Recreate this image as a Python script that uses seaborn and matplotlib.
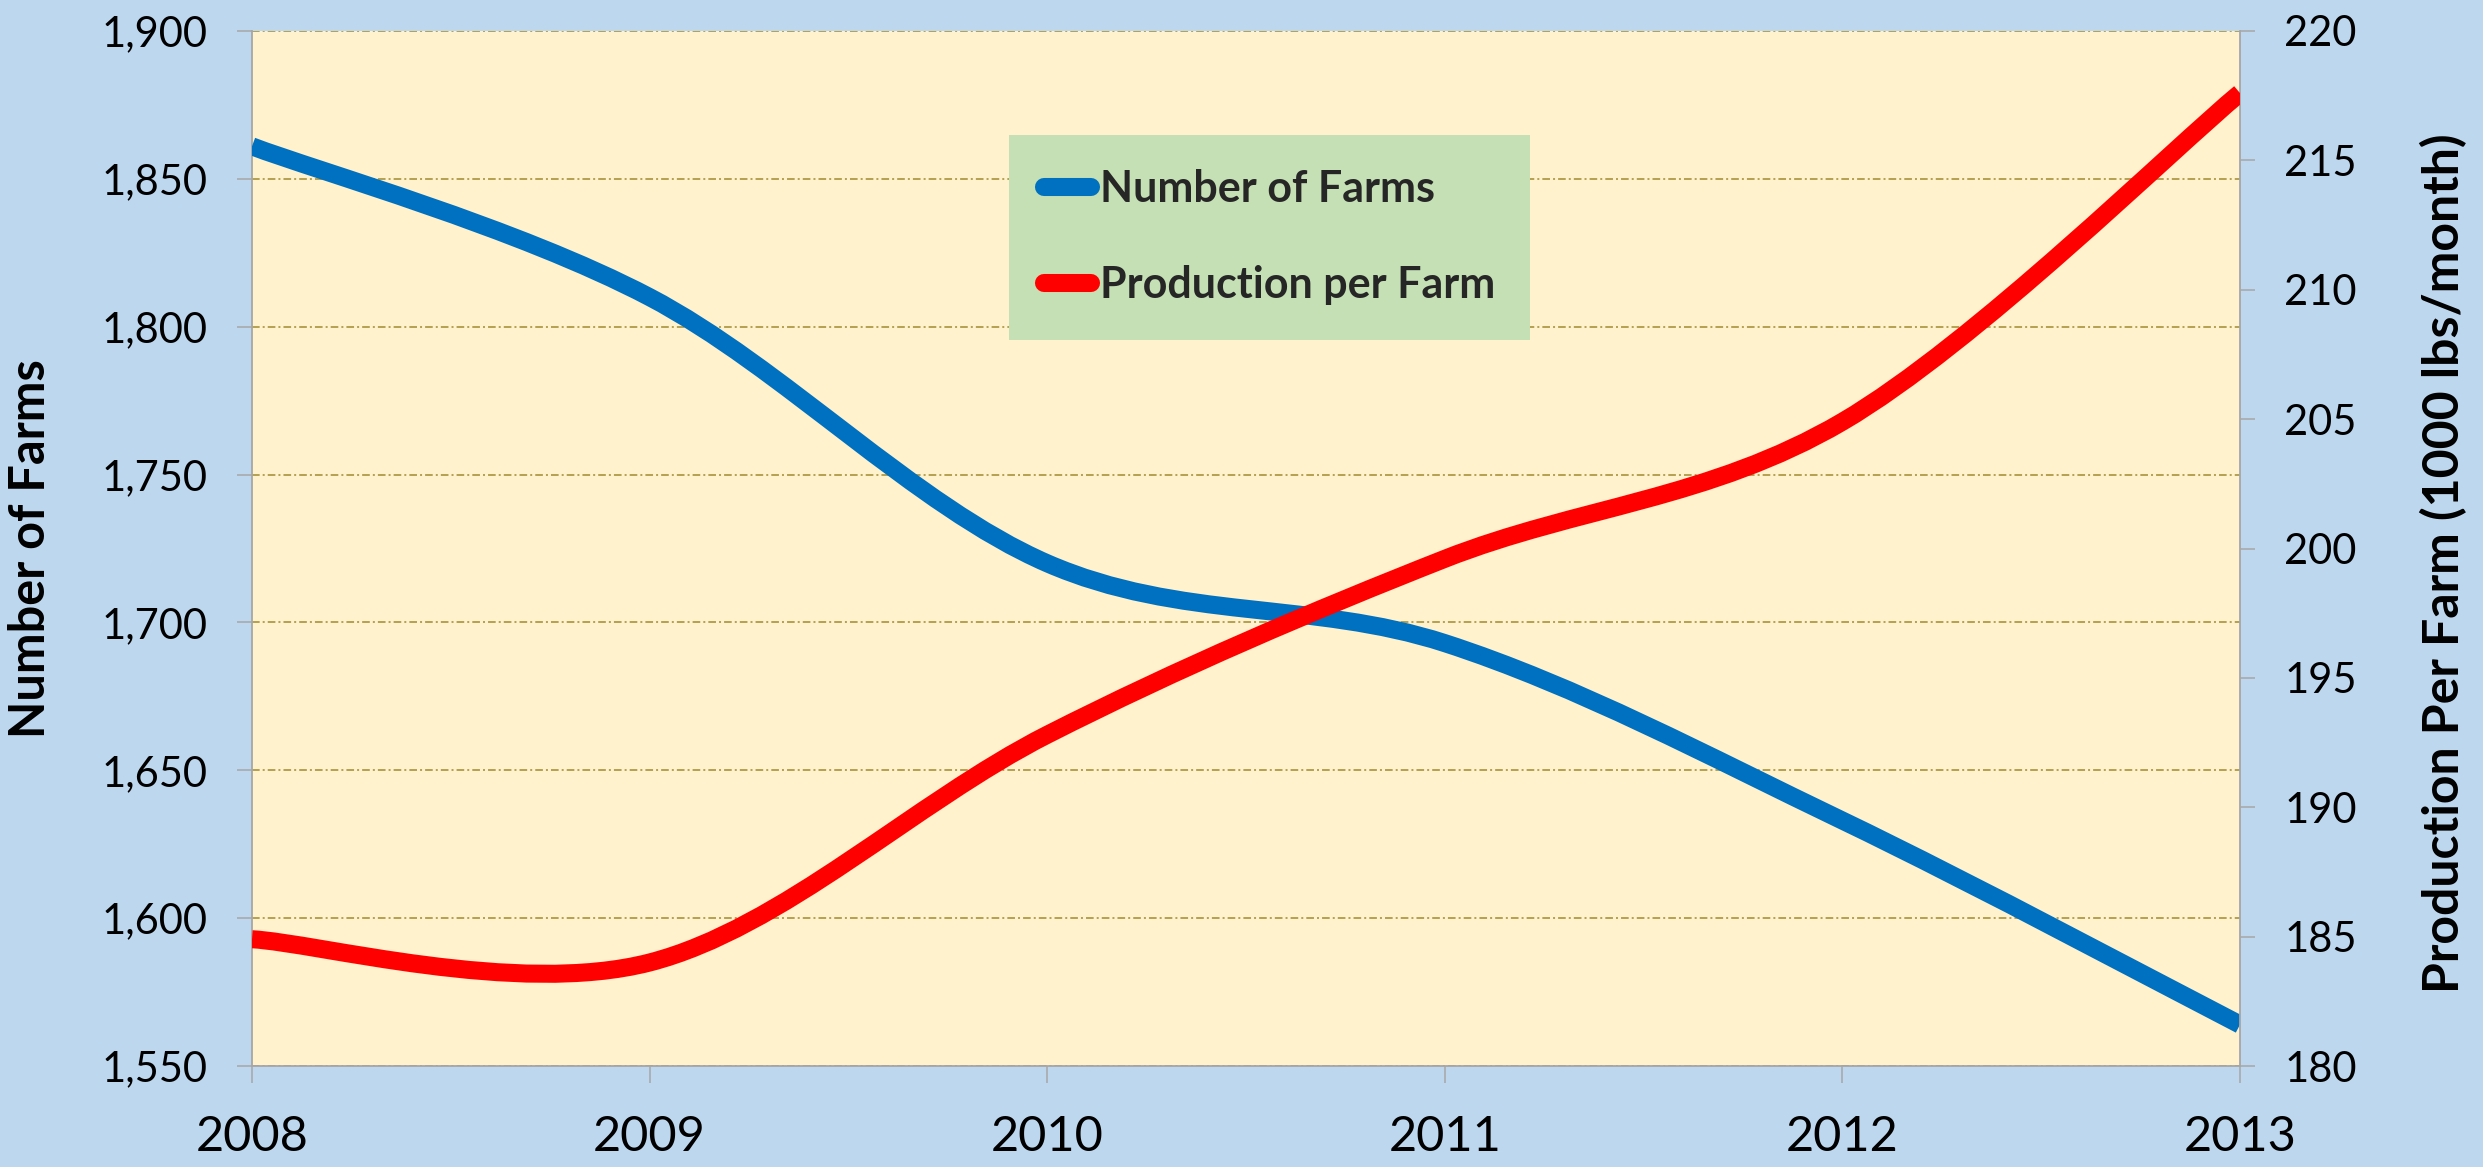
import numpy as np
import pandas as pd
import matplotlib.pyplot as plt
import seaborn as sns
from matplotlib.path import Path
from matplotlib.patches import PathPatch
from matplotlib.lines import Line2D
from matplotlib.ticker import FuncFormatter

# data
years = [2008, 2009, 2010, 2011, 2012, 2013]
farms = [1861, 1810, 1720, 1693, 1633, 1564]
production = [184.9, 184.0, 192.8, 199.6, 204.9, 217.6]

farm_ticks = [1550, 1600, 1650, 1700, 1750, 1800, 1850, 1900]
prod_ticks = [180, 185, 190, 195, 200, 205, 210, 215, 220]

labels = ['Number of Farms', 'Production per Farm']

BLUE = '#0070C0'
RED = '#FF0000'
FIG_BG = '#BDD7EE'
PLOT_BG = '#FFF2CC'
LEGEND_BG = '#C5E0B4'
GRID = '#A08A30'
AXIS_GREY = '#A6A6A6'

sns.set_theme(style='white')
plt.rcParams['font.family'] = ['Lato', 'DejaVu Sans']

df = pd.DataFrame({'year': years, 'farms': farms, 'production': production})


def smooth_path(x, y):
    # Excel-style smoothed line: cubic bezier through the points
    pts = np.column_stack([x, y]).astype(float)
    n = len(pts)
    verts = [pts[0]]
    codes = [Path.MOVETO]
    for i in range(n - 1):
        p0 = pts[max(i - 1, 0)]
        p1 = pts[i]
        p2 = pts[i + 1]
        p3 = pts[min(i + 2, n - 1)]
        verts += [p1 + (p2 - p0) / 6, p2 - (p3 - p1) / 6, p2]
        codes += [Path.CURVE4] * 3
    return Path(verts, codes)


fig = plt.figure(figsize=(24.83, 11.67), dpi=100, facecolor=FIG_BG)
ax = fig.add_axes([252 / 2483, 101 / 1167, 1988 / 2483, 1035 / 1167])
ax.set_facecolor(PLOT_BG)
ax2 = ax.twinx()

ax.add_patch(PathPatch(smooth_path(df['year'], df['farms']), facecolor='none',
                       edgecolor=BLUE, lw=13, capstyle='butt', joinstyle='round', zorder=3))
ax2.add_patch(PathPatch(smooth_path(df['year'], df['production']), facecolor='none',
                        edgecolor=RED, lw=13, capstyle='butt', joinstyle='round', zorder=3))

ax.set_xlim(2008, 2013)
ax.set_ylim(1550, 1900)
ax2.set_ylim(180, 220)
ax.set_xticks(years)
ax.set_yticks(farm_ticks)
ax2.set_yticks(prod_ticks)
ax.yaxis.set_major_formatter(FuncFormatter(lambda v, p: f'{v:,.0f}'))

ax.set_axisbelow(True)
ax.yaxis.grid(True, color=GRID, lw=1.1, ls=(0, (5, 2, 1.3, 2)))
ax.xaxis.grid(False)

for s in ['top', 'right']:
    ax.spines[s].set_visible(False)
for s in ['left', 'bottom']:
    ax.spines[s].set_color(AXIS_GREY)
    ax.spines[s].set_linewidth(1.3)
for s in ['top', 'left', 'bottom']:
    ax2.spines[s].set_visible(False)
ax2.spines['right'].set_color(AXIS_GREY)
ax2.spines['right'].set_linewidth(1.3)

ax.tick_params(axis='y', direction='out', length=10.8, width=1.1, color=AXIS_GREY,
               labelsize=30, pad=21, labelcolor='black', left=True)
ax.tick_params(axis='x', direction='out', length=12.2, width=1.1, color=AXIS_GREY,
               labelsize=35, pad=23, labelcolor='black', bottom=True)
ax2.tick_params(axis='y', direction='out', length=10.8, width=1.1, color=AXIS_GREY,
                labelsize=30, pad=21, labelcolor='black', right=True)

ax.set_ylabel('Number of Farms', fontsize=35, fontweight='bold', color='black')
ax.yaxis.set_label_coords(-0.1, 0.5)
ax2.set_ylabel('Production Per Farm (1000 lbs/month)', fontsize=36, fontweight='bold',
               color='black')
ax2.yaxis.set_label_coords(1.0905, 0.486)

handles = [Line2D([], [], color=BLUE, lw=13, solid_capstyle='round'),
           Line2D([], [], color=RED, lw=13, solid_capstyle='round')]
leg = ax2.legend(handles, labels, loc='upper left', bbox_to_anchor=(0.381, 0.8995),
                 borderaxespad=0, borderpad=0.8, handlelength=1.1, handletextpad=0.2,
                 labelspacing=1.3, fancybox=False, framealpha=1,
                 prop={'family': 'Lato', 'weight': 'bold', 'size': 31})
leg.get_frame().set_facecolor(LEGEND_BG)
leg.get_frame().set_edgecolor('none')

fig.savefig('out.png', dpi=100, facecolor=FIG_BG)
